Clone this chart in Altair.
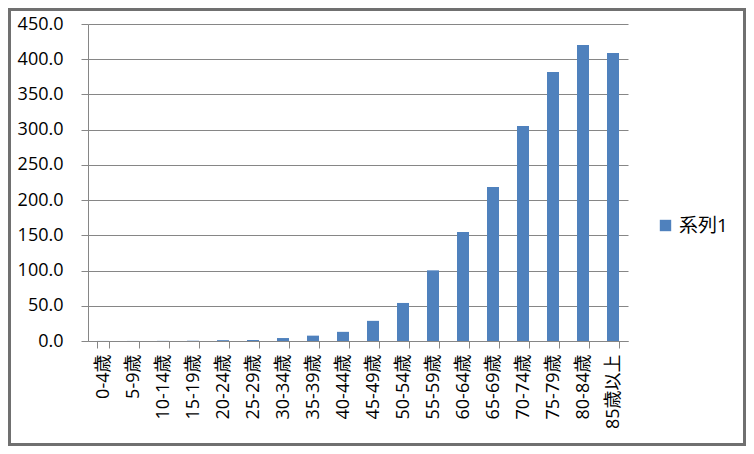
import altair as alt
import pandas as pd

categories = ["0-4歳", "5-9歳", "10-14歳", "15-19歳", "20-24歳", "25-29歳", "30-34歳",
              "35-39歳", "40-44歳", "45-49歳", "50-54歳", "55-59歳", "60-64歳", "65-69歳",
              "70-74歳", "75-79歳", "80-84歳", "85歳以上"]
values = [0.1, 0.1, 0.2, 0.4, 1.2, 1.4, 4.2, 7.6, 13.0, 28.6, 54.0, 100.3, 154.7,
          218.6, 305.2, 381.9, 420.2, 408.9]
series_name = "系列1"

df = pd.DataFrame({"age": categories, "value": values, "series": [series_name] * len(categories)})

FONT = "Open Sans, Noto Sans CJK JP"
W, H = 540, 317
PL, PT, PR, PB = 80, 16, 118, 105

bars = alt.Chart(df).mark_bar(size=12).encode(
    x=alt.X("age:N", sort=None, title=None,
            scale=alt.Scale(paddingInner=0.6, paddingOuter=0.3),
            axis=alt.Axis(labelAngle=-90, labelAlign="right", labelBaseline="middle",
                          tickBand="extent", tickSize=7, labelPadding=6,
                          labelFontSize=18, labelFont=FONT, labelColor="#000000",
                          domainColor="#868686", tickColor="#868686", grid=False)),
    y=alt.Y("value:Q", title=None,
            scale=alt.Scale(domain=[0, 450], nice=False),
            axis=alt.Axis(values=list(range(0, 451, 50)), format=".1f",
                          tickSize=7, labelPadding=18, labelFontSize=18,
                          labelFont=FONT, labelColor="#000000",
                          domainColor="#868686", tickColor="#868686",
                          gridColor="#868686", gridWidth=1)),
    color=alt.Color("series:N", title=None,
                    scale=alt.Scale(range=["#4F81BD"]),
                    legend=alt.Legend(orient="none", legendX=568, legendY=192,
                                      symbolType="square", symbolSize=130,
                                      labelFontSize=19, labelFont=FONT,
                                      labelColor="#000000", symbolStrokeWidth=0)),
)

frame = alt.Chart(pd.DataFrame({"d": [0]})).mark_rect(
    fill=None, stroke="#707070", strokeWidth=3
).encode(
    x=alt.value(-PL + 1.5), x2=alt.value(W + PR - 1.5),
    y=alt.value(-PT + 1.5), y2=alt.value(H + PB - 1.5),
)

chart = alt.layer(bars, frame).properties(
    width=W, height=H,
    padding={"left": PL, "top": PT, "right": PR, "bottom": PB},
    autosize=alt.AutoSizeParams(type="none"),
    background="#ffffff",
).configure_view(stroke=None)

chart.save("out.html", embed_options={"renderer": "svg", "actions": False})
